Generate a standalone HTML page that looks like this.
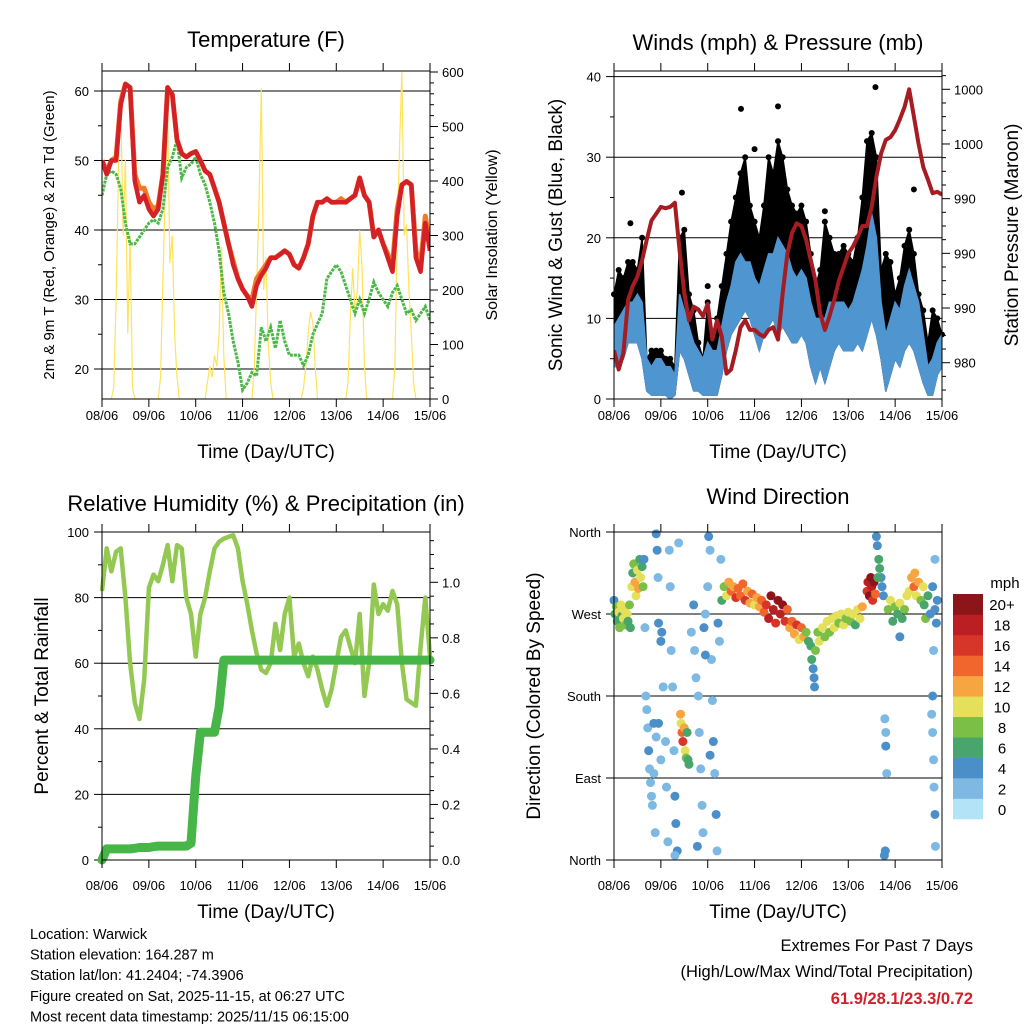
<!DOCTYPE html>
<html><head><meta charset="utf-8"><style>
body{margin:0;background:#fff;}
svg{display:block;font-family:"Liberation Sans",sans-serif;}
</style></head><body>
<svg id="chart" width="1024" height="1024" viewBox="0 0 1024 1024" xmlns="http://www.w3.org/2000/svg"></svg>
<script>
// ---------- DATA ----------
const dayLabels = ['08/06','09/06','10/06','11/06','12/06','13/06','14/06','15/06'];
// temperature, step 0.1 day
const tempRed = [50,48,50,50,58,61,60.5,47,44,45,43, 42,43,48,60.5,59.5,53,51,50.5,51,51.3, 50,48.5,48,46,44,41,38,35,33,31.5, 30.5,29,32,33.5,34.5,36,36,36.5,37,36.5, 35,34.5,36,38,42,44,44,44.5,44,44, 44,44,44.5,45,47.5,45,44,39,40,38, 36,34,42,46.5,47,46.5,36,34,41,37];
const tempOrange = [50,48.5,50,50.5,58.5,61,60.5,48,46,46,44, 43,43.5,48,60.5,59.5,53,51,50.5,51,51.3, 50,48.5,48,46,44,41,38,35.5,33,31.5, 30.5,30,33,34,35,36,36,36.5,37,36.5, 35,34.5,36,38,42,44,44,44.5,44,44, 44.5,44,44.5,45,47.5,45,44,39,40,38, 36.5,35,43,46.5,47,46.5,37,35,42,37.5];
const dewGreen = [45,48,48.5,48,46,41,38,38,39,40,41, 41.5,41,43,49,50.5,53,47.5,49,49.5,50.5, 48,46.5,44,41,37,31,28,24,21,17, 18,19.5,19,26,24,26,23,27,24,22, 22,22,20.5,22,25,26.5,28,33,34,35, 34,32,30,28,30,28,30,32.5,31,30, 29,31,32,30,28,28.5,27,28,29,27];
// solar, step 0.05 day
const solar = [0,0,0,0,0,20,180,420,560,300,440,120,300,20,0,0,0,0,0,0,
 0,0,0,0,0,40,220,380,520,250,300,120,40,0,0,0,0,0,0,0,
 0,0,0,0,0,30,60,40,80,60,120,280,80,0,0,0,0,0,0,0,
 0,0,0,0,0,60,200,360,570,200,260,100,30,0,0,0,0,0,0,0,
 0,0,0,0,0,0,20,60,120,160,140,60,0,0,0,0,0,0,0,0,
 0,0,0,0,0,30,150,240,160,200,310,240,60,0,0,0,0,0,0,0,
 0,0,0,0,0,60,300,460,600,300,320,200,120,30,0,0,0,0,0,0, 0];
// winds, step 0.1 day
const windLo = [4,4,5,7,7,7,5,1,0.5,0.5,0.5, 0.5,0,0.5,6,5,3,1,1,0.5,0.5, 0.5,0.5,3,6,8,9,10,11,10,8, 6,8,9,10,8,9,8,7,7,8, 7,4,2,4,2,4,6,7,6,6, 6,7,6,8,10,8,5,1,3,5, 4,6,7,6,4,2,0.5,0.5,3,4];
const windHi = [9,10,11,12,12,13,12,5,4,5,5, 4,4,3,13,11,9,7,6,5,7, 6,6,9,12,14,17,18,17,17,15, 14,16,18,18,20,19,18,16,15,16, 15,12,10,10,10,12,12,12,12,11, 12,14,16,19,23,20,12,8,10,12, 11,14,16,14,12,8,4,5,7,8];
const gustHi = [13,16,15,17,17,16,20,5,6,6,6, 5,5,4,20,21,13,11,7,5,12, 8,10,14,18,22,25,28,30,24,22, 20,24,30,28,32,30,26,24,23,24, 22,18,14,16,22,20,18,18,19,18, 17,20,25,32,33,30,16,18,17,13, 15,19,21,18,13,11,7,11,10,8];
const gustOutDay = [2.71,3.5,5.58,6.4,1.45,4.5,2.0,0.35,3.0];
const gustOutVal = [36,36.3,38.7,26,25.6,23.3,14,21.8,31];
const pressure = [982.9,981.5,982.7,986.6,987.6,988.3,989.5,991,992.4,992.9,993.4, 993.3,993.4,993.7,990.2,987.1,985.1,986.1,985.9,985.4,986.3, 983.7,985.1,983.9,981.2,981.5,982.9,984.6,985.1,984.4,984.4, 984.1,983.9,984.4,984.6,983.7,987.1,990,991.5,992.2,992, 991,989.5,988,985.6,984.4,985.4,986.6,988,989,990, 990.5,991.2,992,992,993.4,995.6,997.3,998.3,998.5,999, 999.8,1000.7,1002,1000,998,996.3,995.4,994.4,994.5,994.3];
// humidity & precip, step 0.1 day
const rh = [82,95,88,94,95,80,60,48,43,55,83, 87,85,90,96,85,96,95,80,75,62, 75,80,88,95,97,98,98.5,99,95,85, 78,70,63,58,57,60,72,64,75,80, 62,66,60,56,62,58,52,47,52,60, 68,70,65,60,75,50,60,84,75,78, 76,82,78,60,49,48,47,65,80,62];
const precip = [0,0.04,0.04,0.04,0.04,0.04,0.04,0.042,0.045,0.045,0.045, 0.048,0.05,0.05,0.05,0.05,0.05,0.05,0.05,0.06,0.3, 0.46,0.46,0.46,0.46,0.55,0.72,0.72,0.72,0.72,0.72, 0.72,0.72,0.72,0.72,0.72,0.72,0.72,0.72,0.72,0.72, 0.72,0.72,0.72,0.72,0.72,0.72,0.72,0.72,0.72,0.72, 0.72,0.72,0.72,0.72,0.72,0.72,0.72,0.72,0.72,0.72, 0.72,0.72,0.72,0.72,0.72,0.72,0.72,0.72,0.72,0.72];
// wind direction
const dirDay = [0,0.02,0.05,0.07,0.1,0.12,0.15,0.17,0.2,0.22,0.25,0.28,0.3,0.33,0.35,
0.38,0.4,0.42,0.45,0.47,0.5,0.52,0.55,0.57,0.6,0.62,0.64,
0.66,0.68,0.7,0.72,0.74,0.76,0.78,0.8,0.82,0.85,0.88,0.9,0.92,0.94,0.95,1.0,1.02,1.0,1.05,1.1,1.12,1.15,1.18,1.2,1.22,1.25,1.28,1.3,1.32,1.35,1.38,1.3,0.95,0.9,0.85,
1.42,1.43,1.45,1.47,1.5,1.52,1.54,1.56,1.58,1.6,
1.65,1.7,1.72,1.75,1.8,1.82,1.85,1.88,1.9,1.92,1.95,2.0,2.02,2.05,2.08,2.1,2.12,2.15,2.18,2.2,2.22,2.25,2.28,1.95,2.05,1.78,
2.3,2.35,2.4,2.45,2.5,2.55,2.6,2.65,2.7,2.75,2.8,2.85,2.9,2.95,3.0,3.05,3.1,3.15,
3.2,3.25,3.3,3.35,3.4,3.45,3.5,3.55,3.6,3.65,3.7,3.75,
3.8,3.85,3.9,3.95,4.0,4.05,4.1,4.15,
4.2,4.22,4.25,4.27,4.28,4.3,4.35,4.38,
4.45,4.5,4.55,4.6,4.65,4.7,4.75,4.8,4.85,4.9,4.95,5.0,5.05,5.1,5.15,5.2,5.25,5.3,
5.4,5.42,5.45,5.48,5.5,5.52,5.55,5.58,
5.6,5.62,5.65,5.67,5.7,5.72,5.75,5.63,5.78,5.8,5.8,5.82,5.77,5.79,
5.85,5.9,5.95,6.0,6.05,6.1,6.15,6.2,6.25,6.1,
6.3,6.35,6.4,6.42,6.45,6.5,6.55,6.6,
6.62,6.65,6.7,6.75,6.8,6.85,6.88,6.9,6.85,6.82,6.8,6.78,6.8,6.82,6.83,6.85,6.86];
const dirDeg = [285,270,278,262,272,255,280,268,265,274,258,270,262,280,255,
300,315,325,305,290,318,298,330,310,322,300,330,
255,180,165,145,120,100,85,70,60,150,30,358,340,310,260,240,250,110,190,130,80,20,340,300,230,190,120,70,40,10,348,5,150,135,95,
160,150,140,130,145,120,112,140,110,105,
250,280,230,200,180,140,100,60,30,255,270,300,355,340,220,175,130,95,50,10,260,240,330,225,115,15,
285,300,290,305,295,300,288,298,290,303,285,295,282,292,280,288,278,285,
272,280,265,290,275,260,285,270,280,262,275,255,
262,248,258,242,255,245,250,240,
235,220,210,200,190,230,250,240,
255,245,262,250,265,255,268,260,270,258,265,272,262,270,258,275,265,278,
295,305,290,310,300,285,305,292,
355,345,330,320,310,300,290,310,155,140,125,95,5,10,
275,285,262,278,270,282,265,275,290,245,
295,310,300,315,290,305,285,300,
280,265,290,270,300,275,260,285,330,230,180,160,140,110,80,50,15];
const dirSpd = [4,6,8,6,10,8,10,6,10,10,8,10,6,8,6,
10,6,8,12,10,10,12,6,10,6,8,4,
2,2,2,2,4,2,2,2,2,4,2,4,4,2,4,4,4,2,2,2,2,2,2,2,2,2,2,4,4,4,2,2,4,2,2,
12,10,14,16,12,10,8,6,6,6,
2,4,2,2,2,2,2,2,2,4,2,2,4,2,2,2,4,2,4,2,4,2,2,4,4,4,
6,8,10,12,14,12,16,14,14,14,16,12,12,14,10,12,12,14,
14,16,18,20,18,16,20,18,20,16,14,12,
14,12,16,10,14,12,8,6,
6,6,4,4,4,8,8,10,
10,8,10,8,10,10,10,8,10,10,8,10,8,10,6,10,10,12,
16,18,20,20,18,16,20,14,
4,4,6,6,4,4,4,6,2,2,4,2,4,4,
8,10,6,8,6,10,6,8,10,4,
10,12,14,12,10,12,8,10,
6,8,6,4,4,4,4,4,2,2,4,2,2,2,2,4,2];
const spdColors = ['#b3e3f7','#7db9e3','#4a8fc8','#48a56b','#7cbf46','#e5e05a','#f7a540','#f0662d','#d83529','#bb1f24','#8b1518'];
const spdLabels = ['0','2','4','6','8','10','12','14','16','18','20+'];

// ---------- HELPERS ----------
const NS = 'http://www.w3.org/2000/svg';
const svg = document.getElementById('chart');
function mk(tag, attrs, parent){
  const e = document.createElementNS(NS, tag);
  for (const k in attrs) e.setAttribute(k, attrs[k]);
  (parent || svg).appendChild(e);
  return e;
}
function txt(s, x, y, size, anchor, parent, extra){
  const t = mk('text', Object.assign({x:x, y:y, 'font-size':size, 'text-anchor':anchor||'start', fill:'#000'}, extra||{}), parent);
  t.textContent = s;
  return t;
}
function pathFrom(xs, ys){
  let d = '';
  for (let i=0;i<xs.length;i++) d += (i?'L':'M') + xs[i].toFixed(1) + ' ' + ys[i].toFixed(1);
  return d;
}
function seriesPath(arr, step, xf, yf){
  return pathFrom(arr.map((v,i)=>xf(i*step)), arr.map(v=>yf(v)));
}
function xAxis(g, L, R, T, B, xf, labelY, titleY){
  for (let d=0; d<=7; d++){
    const x = xf(d);
    const t1 = mk('line',{x1:x,x2:x,y1:T,y2:T-8,stroke:'#000','stroke-width':1},g);
    
    
    const t2 = mk('line',{x1:x,x2:x,y1:B,y2:B+8,stroke:'#000','stroke-width':1},g);
    
    
    const lb = txt(dayLabels[d], x, labelY, 13, 'middle', g);
    
    
  }
  const tt = txt('Time (Day/UTC)', (L+R)/2, titleY, 19, 'middle', g);
  
  
}
function frame(g, L, R, T, B){
  const f = mk('rect',{x:L,y:T,width:R-L,height:B-T,fill:'none',stroke:'#000','stroke-width':1},g);
  
  
}
function leftTicks(g, L, R, vals, labels, yf, minors, grid){
  vals.forEach((v,i)=>{
    const y = yf(v);
    const tk = mk('line',{x1:L-8,x2:L,y1:y,y2:y,stroke:'#000'},g);
    
    
    if (grid){
      const gl = mk('line',{x1:L,x2:R,y1:y,y2:y,stroke:'#000','stroke-width':1},g);
      
      
    }
    const lb = txt(labels[i], L-13, y+5, 13, 'end', g);
    
    
  });
  (minors||[]).forEach(v=>{
    const y=yf(v);
    const m = mk('line',{x1:L-4,x2:L,y1:y,y2:y,stroke:'#000'},g);
    
    
  });
}
function rightTicks(g, R, vals, labels, yf, minors){
  vals.forEach((v,i)=>{
    const y = yf(v);
    const tk = mk('line',{x1:R,x2:R+8,y1:y,y2:y,stroke:'#000'},g);
    
    
    const lb = txt(labels[i], R+12, y+5, 13, 'start', g);
    
    
  });
  (minors||[]).forEach(v=>{
    const y=yf(v);
    const m = mk('line',{x1:R,x2:R+4,y1:y,y2:y,stroke:'#000'},g);
    
    
  });
}
function rotLabel(g, s, x, y, size, name){
  const t = txt(s, x, y, size, 'middle', g, {transform:'rotate(-90 '+x+' '+y+')'});
  
  
}
function range(a,b,s){const r=[];for(let v=a;v<=b+1e-9;v+=s)r.push(+v.toFixed(4));return r;}

// ---------- PANEL 1: TEMPERATURE ----------
(function(){
  const L=102,R=430,T=71,B=399;
  const g = mk('g',{});
  
  
  const xf = d=>L+d*(R-L)/7;
  const yT = v=>91+(60-v)*6.95;
  const yS = v=>B - v*(B-72)/600;
  const cp = mk('clipPath',{id:'c1'},g); mk('rect',{x:L,y:T,width:R-L,height:B-T},cp);
  const title = txt('Temperature (F)', 266, 47, 22, 'middle', g);
  
  
  leftTicks(g, L, R, [20,30,40,50,60], ['20','30','40','50','60'], yT, [25,35,45,55], true);
  rightTicks(g, R, [0,100,200,300,400,500,600], ['0','100','200','300','400','500','600'], yS, range(20,580,20).filter(v=>v%100));
  const ps = mk('path',{d:seriesPath(solar,0.05,xf,yS),fill:'none',stroke:'#fde35c','stroke-width':1.2,'clip-path':'url(#c1)'},g);
  
  
  const pg = mk('path',{d:seriesPath(dewGreen,0.1,xf,yT),fill:'none',stroke:'#4cb848','stroke-width':3,'stroke-dasharray':'3 1','clip-path':'url(#c1)'},g);
  
  
  const po = mk('path',{d:seriesPath(tempOrange,0.1,xf,yT),fill:'none',stroke:'#f07a28','stroke-width':5,'stroke-linejoin':'round','clip-path':'url(#c1)'},g);
  
  
  const pr = mk('path',{d:seriesPath(tempRed,0.1,xf,yT),fill:'none',stroke:'#d42027','stroke-width':4.5,'stroke-linejoin':'round','clip-path':'url(#c1)'},g);
  
  
  frame(g,L,R,T,B);
  xAxis(g,L,R,T,B,xf,420,458);
  rotLabel(g,'2m & 9m T (Red, Orange) & 2m Td (Green)', 54, 235, 15, 'y-axis-title');
  rotLabel(g,'Solar Insolation (Yellow)', 497, 235, 16, 'y2-axis-title');
})();

// ---------- PANEL 2: WINDS ----------
(function(){
  const L=614,R=942,T=71,B=399;
  const g = mk('g',{});
  
  
  const xf = d=>L+d*(R-L)/7;
  const yW = v=>B - v*8.06;
  const yP = p=>362.7-(p-982)*13.67;
  const cp = mk('clipPath',{id:'c2'},g); mk('rect',{x:L,y:T,width:R-L,height:B-T},cp);
  const title = txt('Winds (mph) & Pressure (mb)', 778, 50, 22, 'middle', g);
  
  
  leftTicks(g, L, R, [0,10,20,30,40], ['0','10','20','30','40'], yW, [5,15,25,35], true);
  rightTicks(g, R, [982,986,990,994,998,1002], ['980','990','990','990','1000','1000'], yP, range(980,1003,1).filter(v=>(v-982)%4));
  const xs = gustHi.map((v,i)=>xf(i*0.1));
  const bd = pathFrom(xs, gustHi.map(yW)) + pathFrom(xs.slice().reverse(), windLo.map(yW).reverse()).replace('M','L') + 'Z';
  const gb = mk('path',{d:bd,fill:'#000',stroke:'#000','stroke-width':1.5,'stroke-linejoin':'round','clip-path':'url(#c2)'},g);
  
  
  gustHi.forEach((v,i)=>{
    const c = mk('circle',{cx:xf(i*0.1),cy:yW(v),r:3,fill:'#000'},g);
    
    
  });
  gustOutDay.forEach((d,i)=>{
    const c = mk('circle',{cx:xf(d),cy:yW(gustOutVal[i]),r:3,fill:'#000'},g);
    
    
  });
  const wd = pathFrom(xs, windHi.map(yW)) + pathFrom(xs.slice().reverse(), windLo.map(yW).reverse()).replace('M','L') + 'Z';
  const wb = mk('path',{d:wd,fill:'#4f95d0',stroke:'#4f95d0','stroke-width':1.5,'clip-path':'url(#c2)'},g);
  
  
  const pp = mk('path',{d:seriesPath(pressure,0.1,xf,yP),fill:'none',stroke:'#a51c22','stroke-width':4,'stroke-linejoin':'round','clip-path':'url(#c2)'},g);
  
  
  frame(g,L,R,T,B);
  xAxis(g,L,R,T,B,xf,420,458);
  rotLabel(g,'Sonic Wind & Gust (Blue, Black)', 562, 235, 19, 'y-axis-title');
  rotLabel(g,'Station Pressure (Maroon)', 1018, 235, 19, 'y2-axis-title');
})();

// ---------- PANEL 3: HUMIDITY ----------
(function(){
  const L=102,R=430,T=532,B=860;
  const g = mk('g',{});
  
  
  const xf = d=>L+d*(R-L)/7;
  const yH = v=>B - v*3.28;
  const yPr = v=>B - v*277.7;
  const title = txt('Relative Humidity (%) & Precipitation (in)', 266, 511, 22, 'middle', g);
  
  
  leftTicks(g, L, R, [0,20,40,60,80,100], ['0','20','40','60','80','100'], yH, [10,30,50,70,90], true);
  rightTicks(g, R, [0,0.2,0.4,0.6,0.8,1.0], ['0.0','0.2','0.4','0.6','0.8','1.0'], yPr, range(0.05,1.15,0.05).filter(v=>Math.round(v*100)%20));
  const ph = mk('path',{d:seriesPath(rh,0.1,xf,yH),fill:'none',stroke:'#93c952','stroke-width':4.5,'stroke-linejoin':'round'},g);
  
  
  const pp = mk('path',{d:seriesPath(precip,0.1,xf,yPr),fill:'none',stroke:'#47b548','stroke-width':9,'stroke-linejoin':'round','stroke-linecap':'round'},g);
  
  
  frame(g,L,R,T,B);
  xAxis(g,L,R,T,B,xf,890,918);
  rotLabel(g,'Percent & Total Rainfall', 48, 696, 19, 'y-axis-title');
})();

// ---------- PANEL 4: WIND DIRECTION ----------
(function(){
  const L=614,R=942,T=532,B=860;
  const g = mk('g',{});
  
  
  const xf = d=>L+d*(R-L)/7;
  const yD = v=>B - v*(B-T)/360;
  const title = txt('Wind Direction', 778, 504, 22, 'middle', g);
  
  
  leftTicks(g, L, R, [0,90,180,270,360], ['North','East','South','West','North'], yD, [], true);
  dirDay.forEach((d,i)=>{
    const idx = Math.min(10, Math.floor(dirSpd[i]/2));
    const c = mk('circle',{cx:xf(d),cy:yD(dirDeg[i]),r:4.5,fill:spdColors[idx]},g);
    
    
  });
  frame(g,L,R,T,B);
  xAxis(g,L,R,T,B,xf,890,918);
  rotLabel(g,'Direction (Colored By Speed)', 540, 696, 19, 'y-axis-title');
  const lg = mk('g',{},g);
  
  
  const mt = txt('mph', 1005, 588, 15, 'middle', lg);
  
  
  const h = (819-594)/11;
  for (let k=0;k<11;k++){
    const y = 594 + (10-k)*h;
    const r = mk('rect',{x:953,y:y,width:30,height:h+0.3,fill:spdColors[k]},lg);
    
    
    const t = txt(spdLabels[k], 1002, y+h/2+6, 15, 'middle', lg);
    
    
  }
})();

// ---------- FOOTER ----------
(function(){
  const g = mk('g',{});
  
  
  const lines = ['Location: Warwick','Station elevation: 164.287 m','Station lat/lon: 41.2404; -74.3906','Figure created on Sat, 2025-11-15, at 06:27 UTC','Most recent data timestamp: 2025/11/15 06:15:00'];
  lines.forEach((s,i)=>{
    const t = txt(s, 30, 939+i*20.6, 14.5, 'start', g);
    
    
  });
  const e1 = txt('Extremes For Past 7 Days', 973, 951, 16.5, 'end');
  
  
  const e2 = txt('(High/Low/Max Wind/Total Precipitation)', 973, 977, 16.5, 'end');
  
  
  const e3 = txt('61.9/28.1/23.3/0.72', 973, 1004, 16.5, 'end', null, {fill:'#d0202a','font-weight':'bold'});
  
  
})();
</script>
</body></html>
